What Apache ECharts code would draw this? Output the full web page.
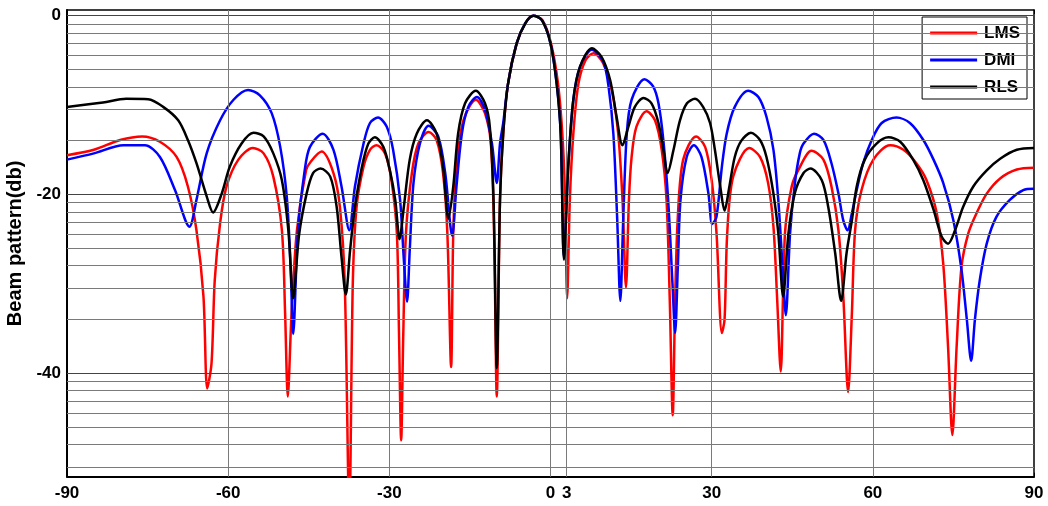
<!DOCTYPE html>
<html>
<head>
<meta charset="utf-8">
<script src="https://cdn.jsdelivr.net/npm/echarts@6/dist/echarts.min.js"></script>
<style>
html,body{margin:0;padding:0;background:#fff;}
#chart{width:1048px;height:506px;}
</style>
</head>
<body>
<div id="chart"></div>
<script>
// ---- data: [angle (deg), beam pattern (dB)] ----
var lmsData = [[-90,-15.6],[-85,-15.0],[-80.1,-13.9],[-76,-13.5],[-72.7,-14.1],[-69.6,-15.8],[-67.5,-19.1],[-65.9,-24.0],[-64.6,-31.4],[-63.9,-41.7],[-63.1,-38.9],[-62.5,-29.6],[-61.5,-23.2],[-60.3,-19.1],[-58.1,-16.1],[-55.4,-14.8],[-53.4,-15.4],[-51.6,-18.0],[-50.0,-24.0],[-49.4,-33.3],[-48.9,-42.6],[-48.2,-33.3],[-47.2,-24.0],[-45.5,-17.3],[-44.6,-16.3],[-42.6,-15.2],[-40.4,-17.6],[-39.2,-21.4],[-38.3,-29.9],[-37.45,-56],[-36.8,-29.9],[-36.1,-21.4],[-34.8,-16.9],[-33.6,-15.0],[-32.4,-14.5],[-30.8,-15.4],[-29.6,-18.4],[-28.6,-24.3],[-28.2,-35.5],[-27.8,-47.5],[-27.4,-35.5],[-26.9,-24.3],[-25.8,-17.6],[-24.6,-14.3],[-22.7,-13.0],[-21.2,-13.9],[-20.0,-17.6],[-19.2,-24.3],[-18.5,-39.3],[-18.1,-24.3],[-17.5,-16.9],[-16.2,-11.7],[-13.9,-9.4],[-12.2,-10.9],[-11.1,-14.3],[-10.5,-24.3],[-10.0,-42.6],[-9.4,-20.6],[-8.8,-13.2],[-7.9,-7.6],[-6.3,-3.1],[-4.7,-0.85],[-3.2,0],[-1.5,-0.5],[0.1,-3.1],[1.4,-7.6],[2.2,-13.2],[2.7,-20],[3.1,-31.6],[3.6,-20.6],[4.25,-13.2],[5.2,-7.6],[6.5,-5.0],[8.0,-4.2],[9.8,-5.3],[11.4,-8.3],[12.6,-13.2],[13.4,-20.6],[14.05,-30.4],[14.6,-20.6],[15.1,-15.8],[16.0,-12.4],[17.9,-10.7],[19.45,-11.7],[20.7,-15.0],[21.6,-20.6],[22.2,-31.8],[22.75,-44.7],[23.2,-31.8],[23.7,-22.5],[24.7,-16.1],[27.1,-13.5],[28.8,-14.7],[30.0,-18.4],[30.9,-24.3],[31.9,-35.5],[32.4,-34.0],[32.9,-24.3],[34.0,-18.0],[37.0,-14.8],[39.0,-15.8],[40.5,-18.7],[41.5,-23.6],[42.2,-31.8],[42.85,-39.8],[43.65,-24.3],[44.9,-19.1],[46.1,-17.3],[48.6,-15.1],[50.8,-16.1],[52.3,-19.1],[53.6,-24.0],[54.5,-31.4],[55.4,-42.1],[56.1,-33.3],[56.7,-24.0],[57.9,-19.5],[60.1,-16.1],[63.2,-14.5],[65.7,-15.0],[68.1,-16.5],[70.0,-18.4],[71.9,-22.1],[73.1,-27.7],[74.0,-37.0],[74.8,-46.9],[75.6,-37.0],[76.5,-28.1],[77.8,-24.3],[79.3,-22.1],[81.2,-19.9],[83.7,-18.2],[86.8,-17.2],[90,-17.0]];

var dmiData = [[-90,-16.1],[-85,-15.4],[-79.5,-14.5],[-75.5,-14.5],[-72.7,-15.8],[-69.9,-19.5],[-67.2,-23.6],[-65.9,-20.6],[-64.0,-15.4],[-61.5,-11.7],[-59.0,-9.4],[-56.3,-8.3],[-54.1,-8.9],[-51.9,-10.9],[-50.3,-14.7],[-49.1,-20.2],[-48.4,-27.7],[-47.9,-35.6],[-47.0,-24],[-45.8,-17.5],[-44.8,-14.7],[-42.4,-13.2],[-40.4,-15.0],[-38.9,-19.1],[-37.45,-24.0],[-36.4,-19.1],[-34.8,-14.3],[-33.6,-12.0],[-32.1,-11.4],[-30.5,-12.4],[-29.3,-15.0],[-28.0,-20.6],[-27.3,-27.3],[-26.7,-32.0],[-26.2,-26.2],[-25.5,-18.7],[-24.3,-14.3],[-22.7,-12.3],[-20.9,-13.5],[-19.6,-17.6],[-18.3,-24.6],[-17.5,-19.1],[-16.5,-13.2],[-15.3,-10.2],[-13.7,-9.1],[-12.2,-10.5],[-10.9,-14.3],[-10.0,-18.7],[-9.4,-14.3],[-8.8,-12.0],[-7.9,-7.6],[-6.3,-3.1],[-4.7,-0.85],[-3.2,0],[-1.6,-0.5],[0,-3.1],[1.15,-7.6],[1.9,-13.2],[2.5,-27.0],[3.3,-16.9],[4.25,-9.4],[5.5,-5.7],[7.7,-3.8],[9.8,-5.1],[10.8,-7.9],[11.7,-13.2],[12.4,-22.5],[13.0,-31.9],[13.55,-22.5],[14.2,-13.2],[15.1,-9.4],[17.5,-7.1],[19.1,-7.9],[20.1,-9.8],[21.0,-13.9],[21.9,-20.6],[22.7,-29.9],[23.2,-35.5],[23.7,-28.1],[24.2,-20.6],[25.35,-15.8],[26.7,-14.5],[28.1,-15.8],[29.4,-19.9],[30.1,-23.3],[30.9,-22.5],[31.9,-16.9],[32.8,-13.2],[34.3,-10.2],[36.8,-8.4],[38.7,-9.1],[40.2,-11.3],[41.5,-15.0],[42.4,-20.6],[43.2,-28.1],[43.8,-33.5],[44.6,-24.3],[45.5,-18.7],[46.4,-15.4],[47.1,-14.3],[49.05,-13.2],[50.8,-13.9],[52.3,-16.5],[53.6,-19.9],[54.5,-22.9],[55.3,-24.0],[56.1,-22.1],[57.0,-19.5],[58.2,-16.5],[59.8,-13.9],[61.65,-12.0],[64.4,-11.4],[66.9,-12.0],[69.4,-13.9],[71.3,-16.1],[73.1,-18.7],[75.0,-22.9],[76.5,-28.4],[77.5,-34.0],[78.3,-38.6],[79.0,-34.0],[79.9,-29.6],[81.2,-25.5],[83.0,-22.5],[85.5,-20.6],[88.0,-19.5],[90,-19.35]];

var rlsData = [[-90,-10.2],[-83.3,-9.7],[-79.0,-9.3],[-74.9,-9.35],[-72.1,-10.2],[-69.3,-11.7],[-67.5,-13.9],[-65.9,-16.5],[-64.0,-20.2],[-62.8,-22.0],[-61.2,-19.9],[-59.7,-16.9],[-57.5,-14.3],[-55.3,-13.1],[-53.4,-13.5],[-51.6,-15.4],[-50.0,-18.4],[-48.8,-24.0],[-47.9,-31.6],[-46.8,-24.5],[-45.4,-19.9],[-44.2,-17.6],[-42.8,-17.1],[-41.0,-18.0],[-39.8,-21.4],[-38.9,-27.0],[-38.1,-31.2],[-37.3,-26.2],[-36.4,-21.4],[-35.1,-16.9],[-33.9,-14.3],[-32.7,-13.6],[-31.1,-14.7],[-29.9,-17.3],[-28.9,-20.6],[-28.1,-25.0],[-27.3,-21.4],[-26.2,-16.1],[-24.9,-13.2],[-23.0,-11.7],[-21.2,-13.2],[-20.0,-16.9],[-19.0,-22.7],[-18.1,-19.1],[-17.2,-13.2],[-15.9,-9.8],[-13.9,-8.4],[-12.2,-9.8],[-11.3,-12.4],[-10.6,-20.6],[-10.0,-39.4],[-9.4,-20.6],[-8.8,-13.2],[-7.9,-7.6],[-6.3,-3.1],[-4.7,-0.85],[-3.2,0],[-1.6,-0.5],[0,-3.1],[1.15,-7.6],[1.9,-13.2],[2.5,-27.3],[3.3,-16.9],[4.25,-9.4],[5.5,-5.7],[7.7,-3.65],[9.5,-4.6],[11.1,-7.2],[12.3,-11.3],[13.4,-14.5],[14.5,-12.4],[15.7,-10.2],[17.3,-9.2],[18.8,-9.8],[20.1,-12.0],[21.0,-15.0],[21.8,-17.6],[22.9,-15.0],[24.1,-11.7],[25.4,-9.8],[26.9,-9.3],[28.4,-10.2],[29.7,-12.0],[30.6,-15.0],[31.6,-19.1],[32.4,-21.8],[33.3,-19.1],[34.3,-15.8],[35.5,-14.0],[37.3,-13.1],[39.0,-13.9],[40.2,-15.8],[41.5,-19.9],[42.4,-24.3],[43.3,-31.4],[44.3,-24.3],[45.5,-19.8],[47.1,-17.6],[48.4,-17.1],[50.5,-18.4],[51.7,-21.4],[53.0,-26.6],[54.1,-31.9],[55.1,-26.6],[56.1,-22.9],[57.0,-19.1],[58.5,-16.1],[60.7,-14.3],[62.9,-13.6],[65.1,-14.1],[67.5,-16.1],[69.4,-18.4],[71.3,-21.7],[72.8,-24.7],[74.0,-25.5],[75.3,-24.0],[76.8,-21.4],[78.7,-19.1],[81.2,-17.3],[83.7,-16.0],[86.8,-15.0],[90,-14.8]];

var seriesNames = ['LMS', 'DMI', 'RLS'];
var xTickLabels = [-90, -60, -30, 0, 3, 30, 60, 90];
var xGridValues = [-60, -30, 0, 3, 30, 60];
var yTickLabels = [0, -20, -40];
var yDecades = [0, -20, -40, -60];
var yMin = -51.57, yMax = 0.64;

// minor grid positions of a log-style decade grid (as in the reference)
var yMinor = [];
yDecades.forEach(function (top) {
  for (var k = 2; k <= 9; k++) {
    var v = top - 20 + 20 * Math.log10(k);
    if (v > yMin && v < yMax) yMinor.push(v);
  }
});
var yAllTicks = yTickLabels.concat(yMinor);

var FONT = 'Liberation Sans, Arial, Helvetica, sans-serif';
var chart = echarts.init(document.getElementById('chart'), null, {renderer: 'canvas'});

var gridLines = [];
yMinor.forEach(function (v) { gridLines.push({yAxis: v, lineStyle: {color: '#7a7a7a', width: 1, type: 'solid'}}); });
yTickLabels.forEach(function (v) { gridLines.push({yAxis: v, lineStyle: {color: '#444', width: 1, type: 'solid'}}); });
xGridValues.forEach(function (v) { gridLines.push({xAxis: v, lineStyle: {color: '#7a7a7a', width: 1, type: 'solid'}}); });

var colors = ['#ff0000', '#0000ff', '#000000'];
var datasets = [lmsData, dmiData, rlsData];

var series = [{
  type: 'line', name: '_grid', data: [], silent: true, z: 1,
  markLine: {silent: true, symbol: ['none', 'none'], label: {show: false}, animation: false,
    lineStyle: {type: 'solid'}, data: gridLines}
}];
seriesNames.forEach(function (n, i) {
  series.push({
    type: 'line', name: n, data: datasets[i], showSymbol: false, symbol: 'none',
    smooth: 0.3,
    lineStyle: {color: colors[i], width: 2.5}, itemStyle: {color: colors[i]},
    z: 3 + i, clip: true
  });
});

var axisLineStyle = {show: true, onZero: false, lineStyle: {color: '#000', width: 1.5}};

chart.setOption({
  animation: false,
  backgroundColor: '#fff',
  grid: {left: 67, right: 14, top: 10, bottom: 29.3, containLabel: false, outerBoundsMode: 'none'},
  legend: {
    data: seriesNames.map(function (n) { return {name: n, icon: 'rect'}; }),
    orient: 'vertical', right: 21, top: 17,
    itemWidth: 47, itemHeight: 3, itemGap: 9,
    padding: [7, 7, 3, 8],
    backgroundColor: '#fff', borderColor: '#000', borderWidth: 1,
    textStyle: {fontFamily: FONT, fontWeight: 'bold', fontSize: 17, color: '#000', lineHeight: 18, padding: [0, 0, 0, 2]}
  },
  xAxis: [{
    type: 'value', min: -90, max: 90, position: 'bottom',
    axisLine: {show: true, onZero: false, lineStyle: {color: '#000', width: 2}},
    splitLine: {show: false},
    axisTick: {show: true, inside: true, length: 4, customValues: xTickLabels, lineStyle: {color: '#000'}},
    axisLabel: {customValues: xTickLabels, margin: 8, fontFamily: FONT, fontWeight: 'bold', fontSize: 17, color: '#000'}
  }, {
    type: 'value', min: -90, max: 90, position: 'top',
    axisLine: axisLineStyle, splitLine: {show: false},
    axisTick: {show: true, inside: true, length: 4, customValues: xTickLabels, lineStyle: {color: '#000'}},
    axisLabel: {show: false}
  }],
  yAxis: [{
    type: 'value', min: yMin, max: yMax, position: 'left',
    name: 'Beam pattern(db)', nameLocation: 'middle', nameGap: 35, nameRotate: 90,
    nameTextStyle: {fontFamily: FONT, fontWeight: 'bold', fontSize: 20, color: '#000'},
    axisLine: {show: true, onZero: false, lineStyle: {color: '#000', width: 2}},
    splitLine: {show: false},
    axisTick: {show: true, inside: true, length: 4, customValues: yAllTicks, lineStyle: {color: '#000'}},
    axisLabel: {customValues: yTickLabels, margin: 6, fontFamily: FONT, fontWeight: 'bold', fontSize: 17, color: '#000'}
  }, {
    type: 'value', min: yMin, max: yMax, position: 'right',
    axisLine: axisLineStyle, splitLine: {show: false},
    axisTick: {show: true, inside: true, length: 4, customValues: yAllTicks, lineStyle: {color: '#000'}},
    axisLabel: {show: false}
  }],
  series: series
});
</script>
</body>
</html>
